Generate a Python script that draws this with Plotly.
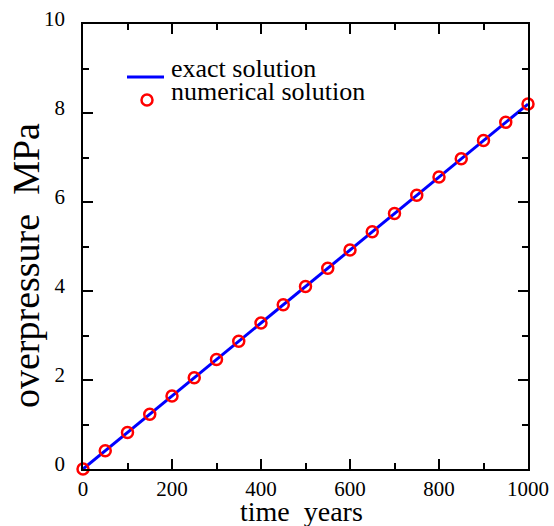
import plotly.graph_objects as go

# exact solution (straight line)
exact_time = [0, 1000]
exact_pressure = [0.0, 8.2]

# numerical solution samples
num_time = [0, 50, 100, 150, 200, 250, 300, 350, 400, 450, 500,
            550, 600, 650, 700, 750, 800, 850, 900, 950, 1000]
num_pressure = [0.0, 0.41, 0.82, 1.23, 1.64, 2.05, 2.46, 2.87, 3.28, 3.69, 4.10,
                4.51, 4.92, 5.33, 5.74, 6.15, 6.56, 6.97, 7.38, 7.79, 8.20]

x_ticks = [0, 200, 400, 600, 800, 1000]
y_ticks = [0, 2, 4, 6, 8, 10]

FONT = "Liberation Serif"
L, R, T, B = 83, 26, 24, 57
W, H = 554, 526
PW, PH = W - L - R, H - T - B

def px(xp):
    return (xp - L) / PW

def py(yp):
    return (H - B - yp) / PH

fig = go.Figure()
fig.add_trace(go.Scatter(x=exact_time, y=exact_pressure, mode="lines",
                         line=dict(color="#0000ff", width=3),
                         name="exact solution", showlegend=False, cliponaxis=False))
fig.add_trace(go.Scatter(x=num_time, y=num_pressure, mode="markers",
                         marker=dict(symbol="circle-open", size=11, color="#ff0000",
                                     line=dict(width=2.5, color="#ff0000")),
                         name="numerical solution", showlegend=False, cliponaxis=False))

axis_common = dict(showgrid=False, zeroline=False, showline=True, linecolor="black",
                   linewidth=1.5, mirror="ticks", ticks="inside", ticklen=10,
                   tickwidth=1.5, tickcolor="black", automargin=False,
                   tickfont=dict(family=FONT, size=21, color="black"))

fig.update_xaxes(range=[0, 1000], tickvals=x_ticks, ticktext=[str(v) for v in x_ticks],
                 minor=dict(ticks="inside", ticklen=6, dtick=100, tickwidth=1.5,
                            tickcolor="black", showgrid=False),
                 ticklabelstandoff=0,
                 **axis_common)
fig.update_yaxes(range=[0, 10], tickvals=y_ticks, ticktext=[str(v) for v in y_ticks],
                 minor=dict(ticks="inside", ticklen=6, dtick=1, tickwidth=1.5,
                            tickcolor="black", showgrid=False),
                 ticklabelstandoff=12, ticklabelshift=-5,
                 **axis_common)

annotations = [
    dict(text="time\u00a0 years", x=px(301), y=py(511), xref="paper", yref="paper",
         xanchor="center", yanchor="middle", showarrow=False,
         font=dict(family=FONT, size=28, color="black")),
    dict(text="overpressure\u00a0 MPa", x=px(26), y=py(266), xref="paper", yref="paper",
         xanchor="center", yanchor="middle", textangle=-90, showarrow=False,
         font=dict(family=FONT, size=38, color="black")),
    dict(text="exact solution", x=px(169), y=py(68), xref="paper", yref="paper",
         xanchor="left", yanchor="middle", showarrow=False,
         font=dict(family=FONT, size=26, color="black")),
    dict(text="numerical solution", x=px(169), y=py(91), xref="paper", yref="paper",
         xanchor="left", yanchor="middle", showarrow=False,
         font=dict(family=FONT, size=26, color="black")),
]
shapes = [
    dict(type="line", xref="paper", yref="paper", x0=px(127), x1=px(164),
         y0=py(77), y1=py(77), line=dict(color="#0000ff", width=3)),
    dict(type="circle", xref="paper", yref="paper", x0=px(141.5), x1=px(152.5),
         y0=py(94.5), y1=py(105.5), line=dict(color="#ff0000", width=2.5)),
]

fig.update_layout(width=W, height=H, margin=dict(l=L, r=R, t=T, b=B),
                  paper_bgcolor="white", plot_bgcolor="white",
                  font=dict(family=FONT, color="black"),
                  annotations=annotations, shapes=shapes, showlegend=False)

fig.write_html("out.html", config={"displayModeBar": False},
               post_script="document.body.style.margin='0';document.body.style.overflow='hidden';")
